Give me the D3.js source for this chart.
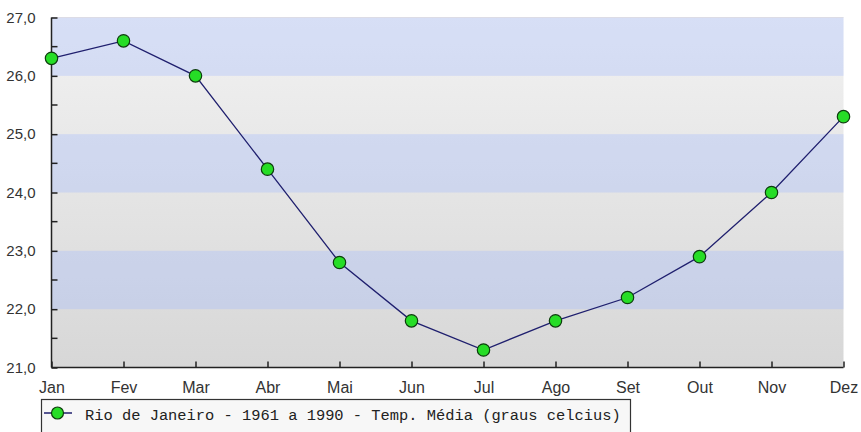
<!DOCTYPE html>
<html>
<head>
<meta charset="utf-8">
<script src="https://cdn.jsdelivr.net/npm/d3@7"></script>
<style>
  html, body { margin: 0; padding: 0; background: #ffffff; }
  svg { display: block; }
</style>
</head>
<body>
<svg id="chart" width="861" height="432"></svg>
<script>
// ---- data ----
const months = ["Jan", "Fev", "Mar", "Abr", "Mai", "Jun", "Jul", "Ago", "Set", "Out", "Nov", "Dez"];
const temps = [26.3, 26.6, 26.0, 24.4, 22.8, 21.8, 21.3, 21.8, 22.2, 22.9, 24.0, 25.3];
const yMajorTicks = [21, 22, 23, 24, 25, 26, 27];
const yMinorTicks = [21.5, 22.5, 23.5, 24.5, 25.5, 26.5];
const seriesName = "Rio de Janeiro - 1961 a 1990 - Temp. Média (graus celcius)";

(function () {
// ---- layout ----
const svg = d3.select("#chart");
const pL = 51.5, pR = 843.5, pT = 17.5, pB = 367.5;

const x = d3.scalePoint().domain(months).range([pL, pR]);
const y = d3.scaleLinear().domain([21, 27]).range([pB, pT]);

const locale = d3.formatLocale({ decimal: ",", thousands: ".", grouping: [3], currency: ["R$", ""] });
const fmt = locale.format(".1f");

// background gradient (gray) for plot area
const defs = svg.append("defs");
const grad = defs.append("linearGradient").attr("id", "bg").attr("x1", 0).attr("y1", 0).attr("x2", 0).attr("y2", 1);
grad.append("stop").attr("offset", "0%").attr("stop-color", "#f2f2f2");
grad.append("stop").attr("offset", "100%").attr("stop-color", "#d7d7d7");

svg.append("rect")
  .attr("x", pL).attr("y", pT)
  .attr("width", pR - pL).attr("height", pB - pT)
  .attr("fill", "url(#bg)");

// alternating blue bands
const bandStarts = yMajorTicks.filter(v => v < 27 && (27 - v) % 2 === 1);
svg.append("g").selectAll("rect").data(bandStarts).join("rect")
  .attr("x", pL)
  .attr("y", d => y(d + 1))
  .attr("width", pR - pL)
  .attr("height", d => y(d) - y(d + 1))
  .attr("fill", "rgb(160,185,255)")
  .attr("fill-opacity", 0.33);

// top border of plot
svg.append("line")
  .attr("x1", pL).attr("x2", pR).attr("y1", pT).attr("y2", pT)
  .attr("stroke", "#dcdce6").attr("stroke-width", 1);

// ---- axes ----
const axisColor = "#222";
const yAxis = svg.append("g").attr("transform", `translate(${pL},0)`)
  .call(d3.axisLeft(y).tickValues(yMajorTicks).tickFormat(fmt).tickSize(-6).tickPadding(16));
yAxis.select(".domain").attr("stroke", axisColor).attr("stroke-width", 1.5).attr("d", `M0,${pT}V${pB}`);
yAxis.selectAll(".tick line").attr("stroke", axisColor).attr("stroke-width", 1.5);
yAxis.selectAll(".tick text")
  .attr("fill", "#333")
  .attr("font-family", "'Liberation Sans', Arial, sans-serif")
  .attr("font-size", "15px");

svg.append("g").attr("transform", `translate(${pL},0)`)
  .selectAll("line").data(yMinorTicks).join("line")
  .attr("x1", 0).attr("x2", 6)
  .attr("y1", d => y(d)).attr("y2", d => y(d))
  .attr("stroke", axisColor).attr("stroke-width", 1.5);

const xAxis = svg.append("g").attr("transform", `translate(0,${pB})`)
  .call(d3.axisBottom(x).tickSize(-6).tickPadding(14));
xAxis.select(".domain").attr("stroke", axisColor).attr("stroke-width", 1.5).attr("d", `M${pL},0H${pR}`);
xAxis.selectAll(".tick line").attr("stroke", axisColor).attr("stroke-width", 1.5);
xAxis.selectAll(".tick text")
  .attr("fill", "#333")
  .attr("font-family", "'Liberation Sans', Arial, sans-serif")
  .attr("font-size", "16px");

// ---- line + markers ----
const line = d3.line().x((d, i) => x(months[i])).y(d => y(d));
svg.append("path")
  .datum(temps)
  .attr("d", line)
  .attr("fill", "none")
  .attr("stroke", "#1f1f6e")
  .attr("stroke-width", 1.3);

svg.append("g").selectAll("circle").data(temps).join("circle")
  .attr("cx", (d, i) => x(months[i]))
  .attr("cy", d => y(d))
  .attr("r", 6.2)
  .attr("fill", "#26dd26")
  .attr("stroke", "#0d3d0d")
  .attr("stroke-width", 1.2);

// ---- legend ----
const lg = svg.append("g");
lg.append("rect")
  .attr("x", 41.5).attr("y", 399.5)
  .attr("width", 589).attr("height", 40)
  .attr("fill", "#f7f7f7")
  .attr("stroke", "#333").attr("stroke-width", 1.2);
lg.append("line")
  .attr("x1", 44).attr("x2", 72).attr("y1", 413).attr("y2", 413)
  .attr("stroke", "#1f1f6e").attr("stroke-width", 1.5);
lg.append("circle")
  .attr("cx", 57.5).attr("cy", 413).attr("r", 6)
  .attr("fill", "#26dd26").attr("stroke", "#0d3d0d").attr("stroke-width", 1.2);
lg.append("text")
  .attr("x", 85).attr("y", 420)
  .attr("fill", "#222")
  .attr("font-family", "'Liberation Mono', 'DejaVu Sans Mono', monospace")
  .attr("font-size", "15.4px")
  .text(seriesName);
})();
</script>
</body>
</html>
